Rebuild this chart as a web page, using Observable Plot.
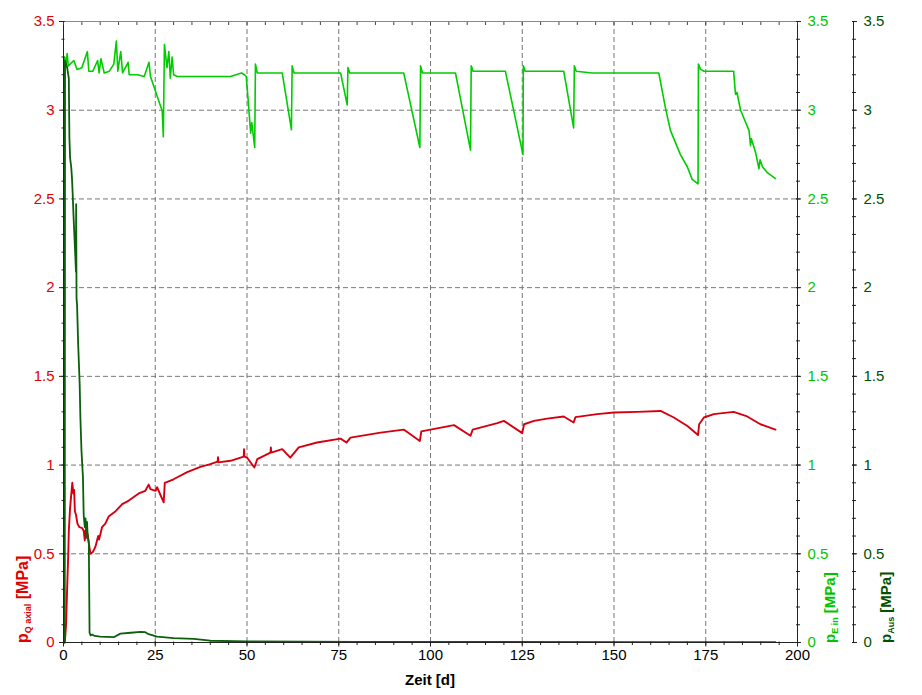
<!DOCTYPE html>
<html><head><meta charset="utf-8">
<script src="https://cdn.jsdelivr.net/npm/d3@7"></script>
<script src="https://cdn.jsdelivr.net/npm/@observablehq/plot@0.6"></script>
<style>html,body{margin:0;padding:0;background:#fff;}</style>
</head><body><div id="chart"></div>
<script>
// p_Q axial [MPa] over Zeit [d]
const pQaxial = [[0,0],[0.35,0.0],[0.7,0.1],[1.0,0.31],[1.3,0.5],[1.45,0.63],[1.8,0.76],[2.2,0.855],[2.4,0.90],[2.7,0.84],[2.9,0.86],[3.1,0.74],[3.4,0.72],[3.8,0.67],[4.35,0.65],[5.1,0.645],[5.5,0.63],[5.8,0.575],[6.0,0.63],[6.3,0.59],[6.6,0.61],[6.9,0.56],[7.35,0.5],[8.0,0.51],[8.7,0.54],[9.45,0.6],[9.7,0.58],[10.5,0.65],[11.4,0.67],[12.3,0.71],[14.2,0.74],[16.0,0.78],[17.8,0.80],[20.5,0.84],[22.3,0.855],[23.2,0.89],[23.7,0.865],[25.1,0.855],[25.5,0.875],[27.3,0.79],[27.6,0.9],[30,0.92],[33.7,0.96],[37.3,0.99],[40,1.005],[42,1.02],[42.1,1.045],[42.2,1.015],[45.5,1.024],[49.1,1.048],[49.2,1.09],[49.3,1.048],[50.1,1.04],[52.0,0.986],[52.8,1.033],[56.4,1.07],[56.5,1.1],[56.6,1.07],[59.6,1.09],[61.8,1.042],[64.1,1.10],[69.1,1.127],[75.5,1.149],[77.1,1.127],[78.2,1.155],[86.4,1.183],[92.7,1.20],[97.1,1.136],[97.5,1.19],[100,1.20],[106.4,1.225],[110.9,1.165],[111.5,1.20],[118.2,1.236],[120,1.249],[125,1.18],[125.5,1.23],[128.2,1.249],[131.8,1.262],[136.3,1.274],[139,1.24],[139.5,1.27],[145.4,1.287],[150,1.296],[156.3,1.30],[162.7,1.305],[166.3,1.268],[170,1.22],[172.9,1.169],[173.2,1.23],[174.5,1.268],[177.2,1.287],[182.6,1.30],[186.3,1.274],[189.9,1.23],[194,1.20]];

// p_E in [MPa]
const pEin = [[0.3,0],[0.35,3.30],[0.6,3.24],[1.0,3.32],[1.3,3.25],[2.8,3.28],[3.7,3.23],[5,3.24],[6.5,3.33],[6.9,3.22],[8.0,3.22],[9.3,3.28],[9.7,3.21],[10.2,3.29],[11.1,3.21],[12.5,3.22],[13.7,3.26],[14.4,3.39],[14.8,3.22],[15.6,3.33],[16.1,3.21],[17.6,3.27],[17.9,3.2],[20.2,3.2],[22,3.19],[23.3,3.27],[23.7,3.19],[26.9,2.995],[27.2,2.85],[27.5,3.37],[28.2,3.24],[28.7,3.33],[29.1,3.18],[29.6,3.3],[30.0,3.2],[31,3.19],[37,3.19],[45.5,3.19],[48.5,3.21],[49.3,3.2],[49.8,3.19],[50.3,3.06],[51,2.87],[51.3,2.93],[52.1,2.79],[52.3,3.26],[52.8,3.21],[59.6,3.21],[62.1,2.89],[62.3,3.25],[62.8,3.21],[75.5,3.21],[77.3,3.03],[77.5,3.24],[78,3.21],[92.7,3.21],[97.1,2.79],[97.3,3.25],[97.8,3.21],[106.8,3.21],[110.9,2.775],[111.1,3.25],[111.6,3.22],[120.4,3.22],[125.2,2.75],[125.3,3.25],[125.8,3.22],[136.3,3.22],[139.0,2.90],[139.2,3.25],[139.7,3.22],[144,3.21],[162.2,3.21],[164,3.015],[165.4,2.885],[168.1,2.75],[170,2.68],[171.3,2.61],[172.9,2.585],[173.0,3.26],[173.6,3.23],[174.5,3.22],[182.6,3.22],[183.1,3.09],[183.5,3.1],[184.5,3.0],[186.8,2.885],[187.2,2.8],[187.4,2.84],[188.6,2.76],[189.5,2.67],[189.8,2.72],[190.5,2.68],[191.7,2.65],[194,2.615]];

// p_Aus [MPa]
const pAus = [[0.3,0],[0.4,3.28],[1.0,3.24],[1.45,3.18],[1.6,2.85],[1.8,2.73],[2.1,2.68],[2.3,2.62],[2.5,2.53],[2.7,2.42],[3.0,2.28],[3.4,2.09],[3.45,2.47],[3.55,1.94],[3.7,1.9],[4.0,1.68],[4.4,1.46],[4.6,1.27],[4.9,1.08],[5.3,0.93],[5.5,0.72],[5.8,0.65],[6.0,0.7],[6.2,0.6],[6.4,0.68],[6.6,0.6],[6.9,0.56],[7.1,0.055],[7.4,0.04],[7.8,0.045],[8.5,0.037],[10,0.033],[13.7,0.03],[15.5,0.05],[18.3,0.055],[21,0.06],[22.3,0.058],[23.2,0.047],[25.5,0.033],[30,0.025],[35.5,0.02],[40,0.01],[50,0.006],[80,0.004],[120,0.003],[160,0.002],[194,0.002]];

const xMajorTicks = [0,25,50,75,100,125,150,175,200];
const xMinorTicks = [0,5,10,15,20,25,30,35,40,45,50,55,60,65,70,75,80,85,90,95,100,105,110,115,120,125,130,135,140,145,150,155,160,165,170,175,180,185,190,195,200];
const yMajorTicks = [0,0.5,1,1.5,2,2.5,3,3.5];
const yMinorTicks = [0,0.1,0.2,0.3,0.4,0.5,0.6,0.7,0.8,0.9,1,1.1,1.2,1.3,1.4,1.5,1.6,1.7,1.8,1.9,2,2.1,2.2,2.3,2.4,2.5,2.6,2.7,2.8,2.9,3,3.1,3.2,3.3,3.4,3.5];
const xGridLines = [25,50,75,100,125,150,175];
const yGridLines = [0.5,1,1.5,2,2.5,3];

const RED = "#d40010", RED_T = "#e00000";
const GREEN = "#00cc00", GREEN_T = "#00c400";
const DKGREEN = "#0b600b", DKGREEN_T = "#005200";
const AXIS = "#222";
const fmt = d => String(d);
const none = () => "";
const OFF3 = 56;
const FF = "'Liberation Sans', Arial, sans-serif";
const FS = 15;

const chart = Plot.plot({
  width: 922,
  height: 695,
  marginLeft: 63,
  marginRight: 125,
  marginTop: 21,
  marginBottom: 53,
  x: {domain: [0, 200], axis: null},
  y: {domain: [0, 3.5], axis: null},
  style: {fontFamily: FF, fontSize: "15px", background: "#fff", overflow: "visible"},
  marks: [
    Plot.gridX(xGridLines, {stroke: "#777", strokeOpacity: 1, strokeDasharray: "5,3"}),
    Plot.gridY(yGridLines, {stroke: "#777", strokeOpacity: 1, strokeDasharray: "5,3"}),
    Plot.ruleY([3.5], {stroke: "#888"}),
    // series
    Plot.line(pEin, {x: d => d[0], y: d => d[1], stroke: GREEN, strokeWidth: 1.6}),
    Plot.line(pQaxial, {x: d => d[0], y: d => d[1], stroke: RED, strokeWidth: 1.9}),
    Plot.line(pAus, {x: d => d[0], y: d => d[1], stroke: DKGREEN, strokeWidth: 1.8}),
    // axis lines
    Plot.ruleX([0], {stroke: AXIS}),
    Plot.ruleX([200], {stroke: AXIS}),
    Plot.ruleX([200], {stroke: AXIS, dx: OFF3}),
    Plot.ruleY([0], {stroke: AXIS}),
    // x ticks
    Plot.axisX({anchor: "bottom", ticks: xMinorTicks, tickSize: 3.5, dy: -0.5, tickFormat: none, stroke: AXIS}),
    Plot.axisX({anchor: "bottom", ticks: xMajorTicks, tickSize: 5, dy: -0.5, tickFormat: none, stroke: AXIS}),
    Plot.axisX({anchor: "top", ticks: xMinorTicks, tickSize: 3, dy: 3, tickFormat: none, stroke: "#444"}),
    Plot.axisX({anchor: "bottom", ticks: xMajorTicks, tickSize: 0, tickPadding: 7, tickFormat: fmt, fill: "#000", fontSize: FS, fontFamily: FF}),
    // y ticks
    Plot.axisY({anchor: "left", ticks: yMinorTicks, tickSize: 3, dx: 1.5, tickFormat: none, stroke: AXIS}),
    Plot.axisY({anchor: "left", ticks: yMajorTicks, tickSize: 5.5, dx: 1.5, tickFormat: none, stroke: AXIS}),
    Plot.axisY({anchor: "right", ticks: yMinorTicks, tickSize: 4, dx: -2, tickFormat: none, stroke: AXIS}),
    Plot.axisY({anchor: "right", ticks: yMajorTicks, tickSize: 5, dx: -2, tickFormat: none, stroke: AXIS}),
    Plot.axisY({anchor: "right", ticks: yMinorTicks, tickSize: 4, dx: OFF3 - 2, tickFormat: none, stroke: AXIS}),
    Plot.axisY({anchor: "right", ticks: yMajorTicks, tickSize: 5, dx: OFF3 - 2, tickFormat: none, stroke: AXIS}),
    // y labels
    Plot.axisY({anchor: "left", ticks: yMajorTicks, tickSize: 0, tickPadding: 9, tickFormat: fmt, fill: RED_T, fontSize: FS, fontFamily: FF}),
    Plot.axisY({anchor: "right", ticks: yMajorTicks, tickSize: 0, tickPadding: 10, tickFormat: fmt, fill: GREEN_T, fontSize: FS, fontFamily: FF}),
    Plot.axisY({anchor: "right", ticks: yMajorTicks, tickSize: 0, tickPadding: 10, dx: OFF3, tickFormat: fmt, fill: DKGREEN_T, fontSize: FS, fontFamily: FF})
  ]
});

document.getElementById("chart").appendChild(chart);

// axis titles (real text, with subscripts)
const svg = d3.select(chart.tagName.toLowerCase() === "svg" ? chart : chart.querySelector("svg"));
function vLabel(x, y, color, main, sub, rest, size) {
  const t = svg.append("text")
    .attr("transform", `translate(${x},${y}) rotate(-90)`)
    .attr("text-anchor", "start")
    .attr("font-family", FF)
    .attr("font-weight", "bold")
    .attr("font-size", size)
    .attr("fill", color);
  t.append("tspan").text(main);
  t.append("tspan").attr("font-size", 9).attr("dy", 3).text(sub);
  t.append("tspan").attr("dy", -3).text(rest);
}
vLabel(28, 643, RED_T, "p", "Q axial", " [MPa]", 16);
vLabel(835, 643, GREEN_T, "p", "E in", " [MPa]", 15);
vLabel(891, 643, DKGREEN_T, "p", "Aus", " [MPa]", 15);
svg.append("text")
  .attr("x", 430).attr("y", 685)
  .attr("text-anchor", "middle")
  .attr("font-family", FF).attr("font-weight", "bold").attr("font-size", 15)
  .attr("fill", "#000")
  .text("Zeit [d]");
</script>
</body></html>
